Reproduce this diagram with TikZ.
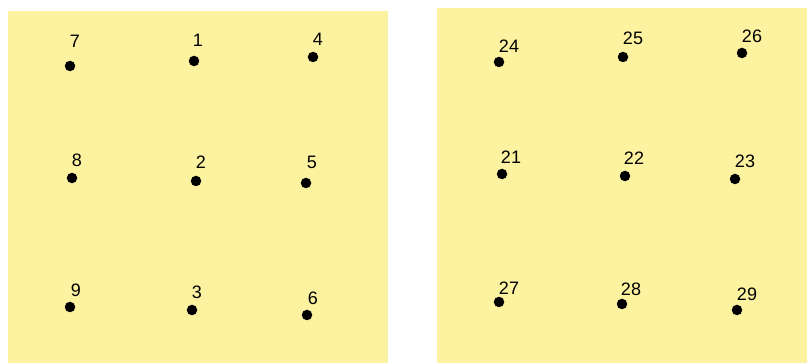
\documentclass[tikz,border=0pt]{standalone}
\usepackage{fontspec}
\setmainfont{Liberation Sans}
\usetikzlibrary{positioning}
\definecolor{padyellow}{RGB}{252,242,160}
\tikzset{
  pad/.style={fill=padyellow,draw=none},
  dot/.style={circle,fill=black,inner sep=0pt,minimum size=10.5pt},
  num/.style={inner sep=0pt,font=\fontsize{18}{18}\selectfont}
}
\begin{document}
\begin{tikzpicture}[x=1pt,y=-1pt]
  \useasboundingbox (0,0) rectangle (807,363);
  % the two plates
  \fill[pad] (8,11) rectangle (388,363);
  \fill[pad] (437,8) rectangle (807,363);

  % left plate
  \foreach \n/\x/\y/\lx/\ly in {7/70/66/75/41, 1/194/61/198/40, 4/313/57/318/39,
      8/72/178/77/160, 2/196/181/201/162, 5/306/183/312/162,
      9/70/307/76/290, 3/192/310/197/292, 6/307/315/313/298}{
    \node[dot] (p\n) at (\x,\y) {};
    \node[num] (l\n) at (\lx,\ly) {\n};
  }

  % right plate
  \foreach \n/\x/\y/\lx/\ly in {24/499/62/509/46, 25/623/57/633/38, 26/742/53/752/36,
      21/502/174/511/157, 22/625/176/634/158, 23/735/179/745/161,
      27/499/302/509/288, 28/622/304/631/289, 29/737/310/747/294}{
    \node[dot] (p\n) at (\x,\y) {};
    \node[num] (l\n) at (\lx,\ly) {\n};
  }
\end{tikzpicture}
\end{document}
